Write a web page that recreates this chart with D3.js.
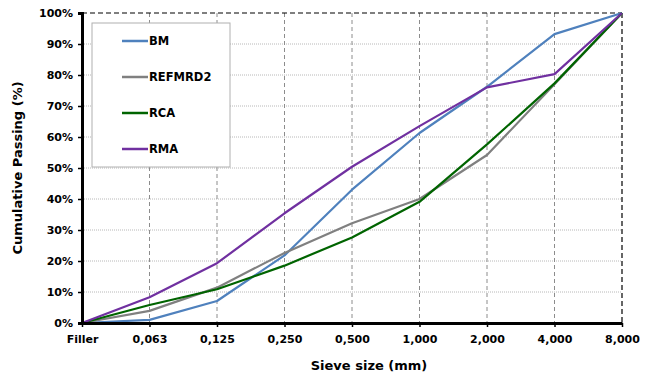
<!DOCTYPE html>
<html>
<head>
<meta charset="utf-8">
<script src="https://cdn.jsdelivr.net/npm/d3@7"></script>
<style>
  body { margin: 0; background: #fff; }
  text { font-family: "DejaVu Sans", sans-serif; font-weight: bold; fill: #000; }
</style>
</head>
<body>
<div id="chart"></div>
<script>
// sieve sizes (category axis)
const sieves = ['Filler', '0,063', '0,125', '0,250', '0,500', '1,000', '2,000', '4,000', '8,000'];
const yTicks = [0, 10, 20, 30, 40, 50, 60, 70, 80, 90, 100];

const bm      = [0, 1.0, 7.1, 21.8, 43.0, 61.3, 76.2, 93.2, 100];
const refmrd2 = [0, 3.9, 11.4, 22.6, 32.2, 40.0, 54.2, 77.0, 100];
const rca     = [0, 5.8, 10.9, 18.5, 27.6, 39.1, 57.6, 77.3, 100];
const rma     = [0, 8.3, 19.3, 35.4, 50.4, 63.5, 76.0, 80.3, 100];

const series = [
  {name: 'BM', values: bm, color: '#4f81bd'},
  {name: 'REFMRD2', values: refmrd2, color: '#808080'},
  {name: 'RCA', values: rca, color: '#006400'},
  {name: 'RMA', values: rma, color: '#7030a0'},
];

const width = 648, height = 378;
const margin = {top: 13, right: 26, bottom: 55, left: 82};
const w = width - margin.left - margin.right;
const h = height - margin.top - margin.bottom;

const svg = d3.select('#chart').append('svg')
  .attr('width', width)
  .attr('height', height);

const g = svg.append('g')
  .attr('transform', 'translate(' + margin.left + ',' + margin.top + ')');

const x = d3.scalePoint().domain(sieves).range([0, w]);
const y = d3.scaleLinear().domain([0, 100]).range([h, 0]);

// horizontal gridlines (dotted)
g.append('g')
  .selectAll('line')
  .data(yTicks.filter(d => d > 0 && d < 100))
  .enter().append('line')
  .attr('x1', 0).attr('x2', w)
  .attr('y1', d => y(d)).attr('y2', d => y(d))
  .attr('stroke', '#b8b8b8')
  .attr('stroke-width', 1)
  .attr('stroke-dasharray', '1,1');

// vertical gridlines (dashed)
g.append('g')
  .selectAll('line')
  .data(sieves.slice(1, -1))
  .enter().append('line')
  .attr('x1', d => x(d)).attr('x2', d => x(d))
  .attr('y1', 0).attr('y2', h)
  .attr('stroke', '#8c8c8c')
  .attr('stroke-width', 1)
  .attr('stroke-dasharray', '4,3');

// top and right borders
g.append('line')
  .attr('x1', 0).attr('x2', w).attr('y1', 0).attr('y2', 0)
  .attr('stroke', '#000').attr('stroke-width', 1.2).attr('stroke-dasharray', '5,3');
g.append('line')
  .attr('x1', w).attr('x2', w).attr('y1', 0).attr('y2', h)
  .attr('stroke', '#000').attr('stroke-width', 1.2).attr('stroke-dasharray', '5,3');

// legend box
const legend = g.append('g').attr('transform', 'translate(10,10)');
legend.append('rect')
  .attr('width', 138).attr('height', 144)
  .attr('fill', '#fff')
  .attr('stroke', '#b0b0b0')
  .attr('stroke-width', 1);

const item = legend.selectAll('.item')
  .data(series)
  .enter().append('g')
  .attr('class', 'item')
  .attr('transform', (d, i) => 'translate(0,' + (18 + i * 36) + ')');
item.append('line')
  .attr('x1', 30).attr('x2', 56)
  .attr('stroke', d => d.color)
  .attr('stroke-width', 2.5);
item.append('text')
  .attr('x', 57).attr('dy', '0.35em')
  .style('font-size', '11.5px')
  .text(d => d.name);

// series lines
const drawLine = d3.line()
  .x((d, i) => x(sieves[i]))
  .y(d => y(d));

g.selectAll('.series')
  .data(series)
  .enter().append('path')
  .attr('class', 'series')
  .attr('d', d => drawLine(d.values))
  .attr('fill', 'none')
  .attr('stroke', d => d.color)
  .attr('stroke-width', 2.2)
  .attr('stroke-linejoin', 'round');

// y axis
const yAxis = g.append('g')
  .call(d3.axisLeft(y).tickValues(yTicks).tickSize(4).tickFormat(d => d + '%'));
yAxis.select('.domain').attr('stroke', '#000').attr('stroke-width', 3);
yAxis.selectAll('.tick line').attr('stroke', '#000').attr('stroke-width', 1.5);
yAxis.selectAll('.tick text')
  .attr('x', -9)
  .style('font-size', '11px');

// x axis
const xAxis = g.append('g')
  .attr('transform', 'translate(0,' + h + ')')
  .call(d3.axisBottom(x).tickSize(4).tickSizeOuter(0));
xAxis.select('.domain').attr('stroke', '#000').attr('stroke-width', 3);
xAxis.selectAll('.tick line').attr('stroke', '#000').attr('stroke-width', 1.5);
xAxis.selectAll('.tick text')
  .attr('y', 12)
  .style('font-size', '11px');

// axis titles
svg.append('text')
  .attr('text-anchor', 'middle')
  .attr('transform', 'translate(22,' + (margin.top + h / 2) + ') rotate(-90)')
  .style('font-size', '13px')
  .text('Cumulative Passing (%)');

svg.append('text')
  .attr('text-anchor', 'middle')
  .attr('x', 369)
  .attr('y', 370)
  .style('font-size', '13px')
  .text('Sieve size (mm)');
</script>
</body>
</html>
